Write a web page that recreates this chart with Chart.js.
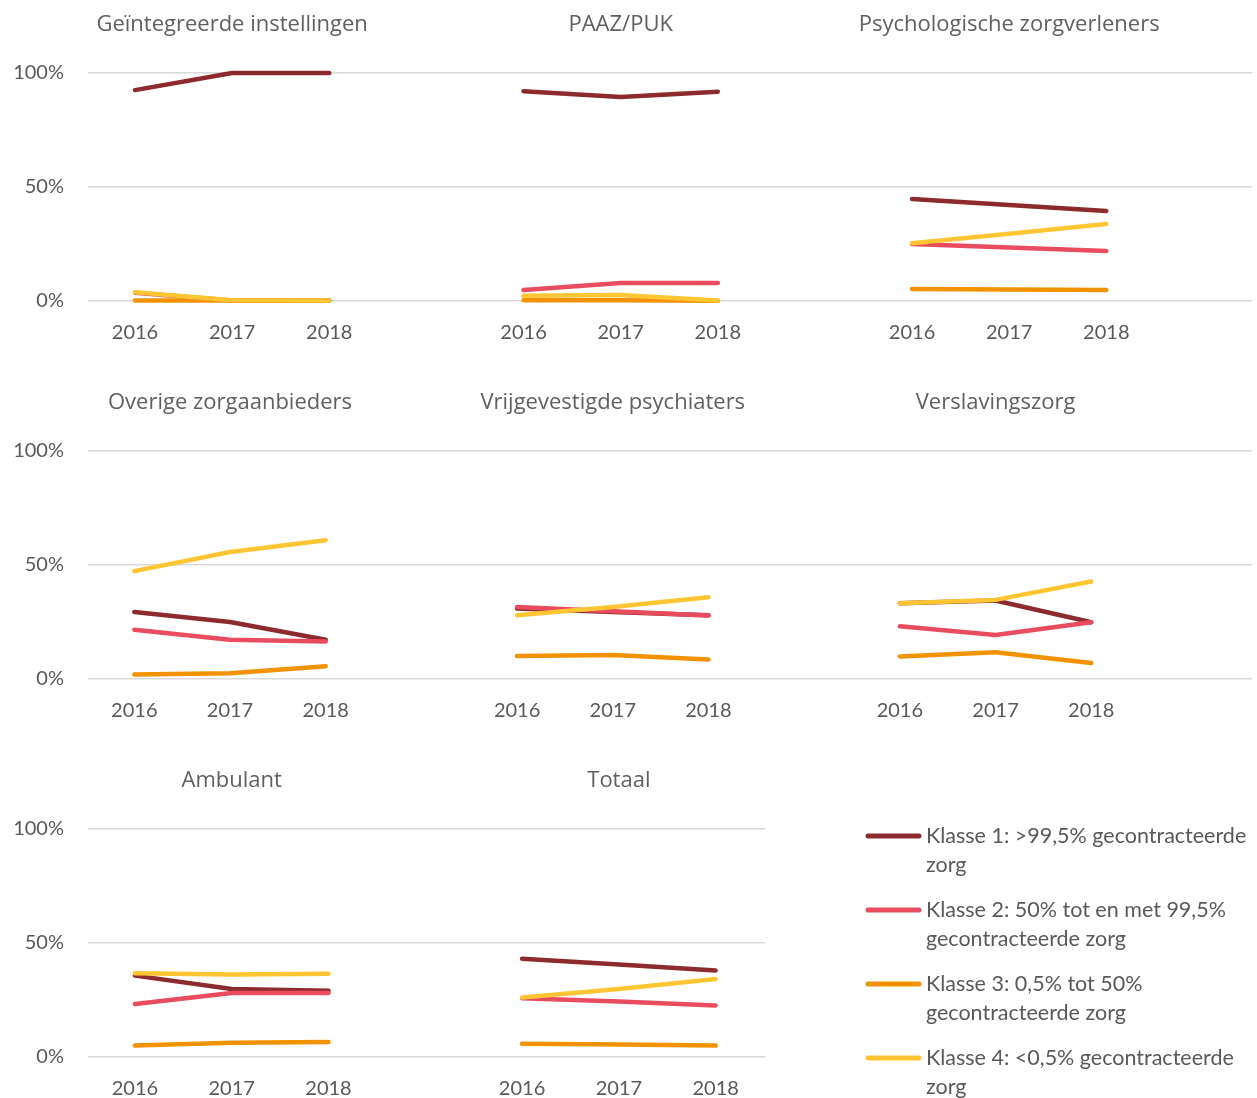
<!DOCTYPE html>
<html lang="nl">
<head>
<meta charset="utf-8">
<title>Klassen gecontracteerde zorg 2016 – 2018</title>
<script src="https://cdn.jsdelivr.net/npm/chart.js"></script>
<style>
  body{margin:0;background:#fff}
  canvas{display:block}
</style>
</head>
<body>

<canvas id="row1" width="1257" height="378"></canvas>
<canvas id="row2" width="1257" height="378"></canvas>
<canvas id="row3" width="1257" height="342"></canvas>

<script>
const years = ['2016', '2017', '2018'];

const panels = [
  'Geïntegreerde instellingen', 'PAAZ/PUK', 'Psychologische zorgverleners',
  'Overige zorgaanbieders', 'Vrijgevestigde psychiaters', 'Verslavingszorg',
  'Ambulant', 'Totaal'
];

const classes = [
  'Klasse 1: >99,5% gecontracteerde zorg',
  'Klasse 2: 50% tot en met 99,5% gecontracteerde zorg',
  'Klasse 3: 0,5% tot 50% gecontracteerde zorg',
  'Klasse 4: <0,5% gecontracteerde zorg'
];

// percentages per panel, 2016 / 2017 / 2018
const klasse1 = [[92.5,100,100],[92,89.5,91.8],[44.7,42.1,39.5],[29.4,25,17.2],[30.9,29.4,28],[33.2,34.4,24.9],[35.7,29.8,29.1],[43.1,40.6,37.9]];
const klasse2 = [[3.6,0.2,0.2],[4.8,7.9,7.9],[25,23.5,21.9],[21.6,17.2,16.5],[31.6,29.7,27.8],[23.1,19.3,24.9],[23.2,28.1,28.1],[25.8,24.3,22.6]];
const klasse3 = [[0.2,0.2,0.2],[0.3,0.3,0.1],[5.3,5,4.8],[2,2.5,5.6],[10.1,10.5,8.5],[9.9,11.7,7],[5,6.2,6.6],[5.8,5.5,5]];
const klasse4 = [[3.8,0.3,0.2],[2.3,2.6,0.2],[25.3,29.5,33.8],[47.3,55.7,60.9],[28,31.6,35.9],[33.2,34.7,42.8],[36.7,36.2,36.5],[26.1,29.8,34.2]];

const yTicks = [0, 50, 100];

const series = [klasse1, klasse2, klasse3, klasse4];
const colors = ['#8c2a2e', '#e84c5e', '#f39200', '#ffc532'];
const grey = '#595959';

// panel titles, centred above the middle year of each panel
const titlePlugin = {
  id: 'panelTitles',
  afterDraw(chart, args, opts) {
    const {ctx, scales:{x}} = chart;
    ctx.save();
    ctx.font = '22px "Open Sans"';
    ctx.fillStyle = '#606060';
    ctx.textAlign = 'center';
    ctx.textBaseline = 'middle';
    opts.names.forEach((name, j) => {
      ctx.fillText(name, x.getPixelForValue(j*4 + 1), 25);
    });
    ctx.restore();
  }
};

// legend in the free bottom-right cell
const legendPlugin = {
  id: 'sideLegend',
  afterDraw(chart, args, opts) {
    if (!opts.show) return;
    const ctx = chart.ctx;
    ctx.save();
    ctx.font = '21.5px Lato';
    ctx.textBaseline = 'middle';
    classes.forEach((label, k) => {
      const y = 80 + k*74;
      ctx.strokeStyle = colors[k];
      ctx.lineWidth = 5;
      ctx.lineCap = 'round';
      ctx.beginPath();
      ctx.moveTo(868, y);
      ctx.lineTo(919, y);
      ctx.stroke();
      // wrap text
      const words = label.split(' ');
      let line = '', lines = [];
      words.forEach(w => {
        const test = line ? line + ' ' + w : w;
        if (ctx.measureText(test).width > 331 && line) { lines.push(line); line = w; }
        else line = test;
      });
      lines.push(line);
      ctx.fillStyle = grey;
      lines.forEach((l, i) => ctx.fillText(l, 926, y + i*29));
    });
    ctx.restore();
  }
};

function makeRow(id, first, count, xMin, xMax, bottomH, rightPad, legend) {
  const datasets = [];
  const tickVals = [];
  for (let j = 0; j < count; j++) {
    years.forEach((y, i) => tickVals.push(j*4 + i));
    series.forEach((s, k) => {
      datasets.push({
        label: classes[k],
        data: s[first + j].map((v, i) => ({x: j*4 + i, y: v})),
        borderColor: colors[k],
        backgroundColor: colors[k],
        borderWidth: 4.5,
        borderCapStyle: 'round',
        borderJoinStyle: 'round',
        pointRadius: 0,
        tension: 0,
        clip: false,
        order: 4 - k
      });
    });
  }

  new Chart(document.getElementById(id), {
    type: 'line',
    data: {datasets},
    plugins: [titlePlugin, legendPlugin],
    options: {
      responsive: false,
      animation: false,
      layout: {padding: {left: 0, right: rightPad, top: 73, bottom: 0}},
      plugins: {
        legend: {display: false},
        tooltip: {enabled: false},
        panelTitles: {names: panels.slice(first, first + count)},
        sideLegend: {show: legend}
      },
      scales: {
        x: {
          type: 'linear',
          min: xMin,
          max: xMax,
          afterBuildTicks: s => { s.ticks = tickVals.map(v => ({value: v})); },
          afterFit: s => { s.height = bottomH; },
          grid: {display: false, drawTicks: false},
          border: {display: false},
          ticks: {
            autoSkip: false,
            maxRotation: 0,
            padding: 20,
            color: grey,
            font: {family: 'Lato', size: 20},
            callback: v => years[v % 4]
          }
        },
        y: {
          min: 0,
          max: 100,
          afterBuildTicks: s => { s.ticks = yTicks.map(v => ({value: v})); },
          afterFit: s => { s.width = 88; },
          grid: {color: '#d9d9d9', lineWidth: 1.5, drawTicks: false},
          border: {display: false},
          ticks: {
            padding: 24,
            color: grey,
            font: {family: 'Lato', size: 20},
            callback: v => v + '%'
          }
        }
      }
    }
  });
}

makeRow('row1', 0, 3, -0.484, 11.5, 77, 5, false);
makeRow('row2', 3, 3, -0.484, 11.68, 77, 5, false);
makeRow('row3', 6, 2, -0.485, 6.51, 41, 492, true);
</script>

</body>
</html>
